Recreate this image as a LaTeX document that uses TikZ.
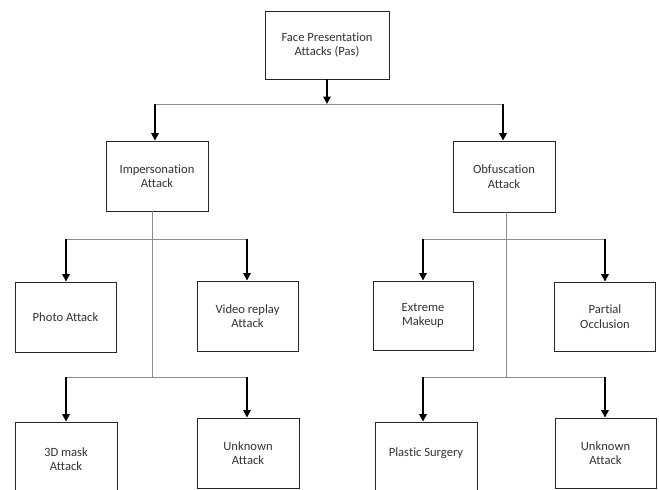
\documentclass[tikz,border=0pt]{standalone}
\usepackage{fontspec}
\setmainfont{Carlito}[Ligatures={NoCommon,NoContextual,NoRare}]
\usetikzlibrary{arrows.meta}
\begin{document}
\begin{tikzpicture}[x=1pt,y=-1pt,
  box/.style={draw=black!85,line width=0.9pt,rectangle,align=center,inner sep=0pt,
    font=\fontsize{12.6}{14.5}\selectfont,text=black!80},
  conn/.style={draw=black!45,line width=1pt},
  arr/.style={draw=black,line width=1.7pt,-{Triangle[length=7.5pt,width=7.5pt]}}]
\useasboundingbox (0,0) rectangle (659,490);
\clip (0,0) rectangle (659,490);
% nodes
\node[box,minimum width=124,minimum height=68] (top) at (327,45) {Face Presentation\\Attacks (Pas)};
\node[box,minimum width=102,minimum height=70] (imp) at (157,176) {Impersonation\\Attack};
\node[box,minimum width=102,minimum height=71] (obf) at (504,176.5) {Obfuscation\\Attack};
\node[box,minimum width=101,minimum height=70] (photo) at (65.5,317) {Photo Attack};
\node[box,minimum width=101,minimum height=70] (video) at (247.5,316) {Video replay\\Attack};
\node[box,minimum width=100,minimum height=69] (ext) at (423,315.5) {Extreme\\Makeup};
\node[box,minimum width=101,minimum height=69] (part) at (605,316.5) {Partial\\Occlusion};
\node[box,minimum width=102,minimum height=74] (mask) at (66,459) {3D mask\\Attack};
\node[box,minimum width=102,minimum height=70] (unkL) at (248,453) {Unknown\\Attack};
\node[box,minimum width=102,minimum height=74] (plas) at (426,459) {Plastic Surgery\\ \mbox{}};
\node[box,minimum width=101,minimum height=70] (unkR) at (605.5,453) {Unknown\\Attack};
% junction coordinates
\coordinate (j0) at (327,104);
\coordinate (hl) at (155,104);
\coordinate (hr) at (503,104);
\coordinate (iv) at (152,377);
\coordinate (a1) at (66,239);
\coordinate (a2) at (247,239);
\coordinate (b1) at (66,377);
\coordinate (b2) at (247,377);
\coordinate (ov) at (506,377);
\coordinate (c1) at (423,239);
\coordinate (c2) at (605,239);
\coordinate (d1) at (423,377);
\coordinate (d2) at (605,377);
% connectors
\draw[conn] (hl) -- (hr);
\draw[arr] (top.south) -- (j0);
\draw[arr] (hl) -- (hl |- imp.north);
\draw[arr] (hr) -- (hr |- obf.north);
% impersonation branch
\draw[conn] (imp.south -| iv) -- (iv);
\draw[conn] (a1) -- (a2);
\draw[conn] (b1) -- (b2);
\draw[arr] (a1) -- (a1 |- photo.north);
\draw[arr] (a2) -- (a2 |- video.north);
\draw[arr] (b1) -- (b1 |- mask.north);
\draw[arr] (b2) -- (b2 |- unkL.north);
% obfuscation branch
\draw[conn] (obf.south -| ov) -- (ov);
\draw[conn] (c1) -- (c2);
\draw[conn] (d1) -- (d2);
\draw[arr] (c1) -- (c1 |- ext.north);
\draw[arr] (c2) -- (c2 |- part.north);
\draw[arr] (d1) -- (d1 |- plas.north);
\draw[arr] (d2) -- (d2 |- unkR.north);
\end{tikzpicture}
\end{document}
